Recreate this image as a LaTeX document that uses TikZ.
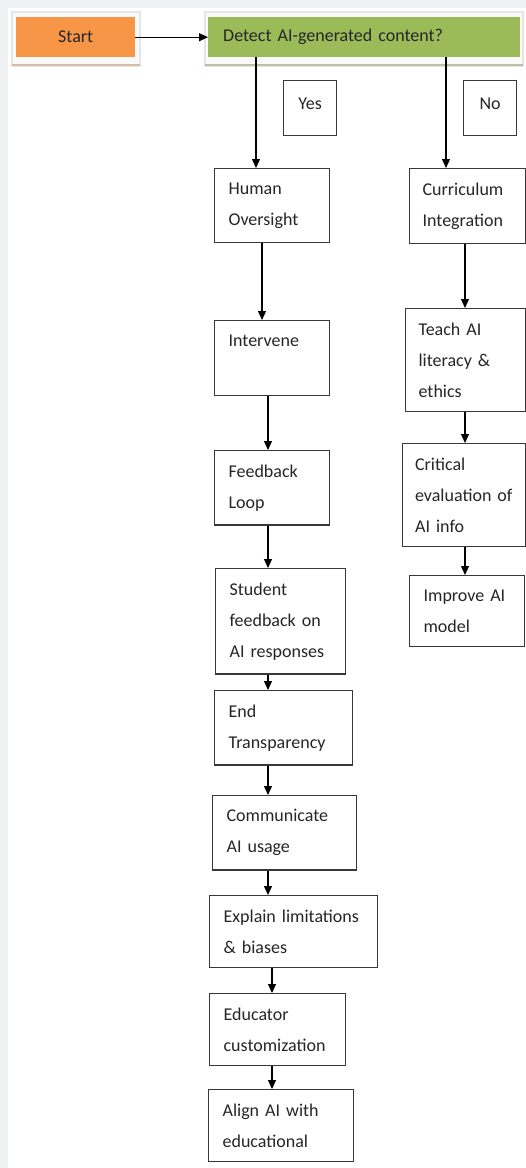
\documentclass[tikz,border=0pt]{standalone}
\usepackage{fontspec}
\setmainfont{Carlito}
\usetikzlibrary{arrows.meta, positioning}

\definecolor{startorange}{HTML}{F79646}
\definecolor{askgreen}{HTML}{9BBB59}
\definecolor{pagegray}{HTML}{F0F1F3}
\definecolor{inkgray}{HTML}{262626}
\definecolor{startshade}{HTML}{D8BCA6}
\definecolor{askshade}{HTML}{B9C2A6}

\begin{document}
\begin{tikzpicture}[x=1pt, y=-1pt,
        every node/.style={font=\fontsize{18}{31}\selectfont, text=inkgray},
        stepbox/.style={draw=black!78, line width=1.2pt, fill=white, anchor=north west,
            align=left, inner xsep=14, inner ysep=14},
        answer/.style={draw=black!78, line width=1.2pt, anchor=north west,
            minimum width=53, minimum height=55, text depth=9, inner ysep=16},
        backframe/.style={draw=black!10, line width=1.2pt, fill=black!2},
        flow/.style={line width=1.2pt, -{Triangle[length=9pt, width=8pt]}}
    ]
        \fill[pagegray] (0,0) rectangle (526,1168);
        \fill[white] (8,8) rectangle (526,1168);
        \useasboundingbox (0,0) rectangle (526,1168);

        % header boxes with their light frames
        \draw[backframe] (12,12) rectangle (140,66);
        \draw[startshade, line width=1.5pt] (12,65) -- (140,65);
        \draw[backframe] (205,12) rectangle (523,66);
        \draw[askshade, line width=1.5pt] (205,65) -- (523,65);
        \node[fill=startorange, anchor=north west, minimum width=119, minimum height=40] (start) at (16,17) {Start};
        \node[fill=askgreen, anchor=north west, text width=282, inner xsep=15, minimum height=40] (detect) at (208,17) {Detect AI-generated content?};

        \node[answer] (yes) at (283,80) {Yes};
        \node[answer] (no) at (463,80) {No};

        % left column
        \node[stepbox, text width=87] (human) at (214,168) {Human\\Oversight};
        \node[stepbox, text width=87, text depth=35] (intervene) at (214,320) {Intervene};
        \node[stepbox, text width=87] (feedback) at (214,450) {Feedback\\Loop};
        \node[stepbox, text width=102] (student) at (215,568) {Student\\feedback on\\AI responses};
        \node[stepbox, text width=110] (endtr) at (214,690) {End\\Transparency};
        \node[stepbox, text width=116] (communicate) at (212,795) {Communicate\\AI usage};
        \node[stepbox, text width=140] (explain) at (209,895) {Explain limitations\\\& biases};
        \node[stepbox, text width=108] (educator) at (209,993) {Educator\\customization};
        \node[stepbox, text width=117] (alignai) at (208,1089) {Align AI with\\educational};

        % right column
        \node[stepbox, text width=90, inner xsep=13] (curriculum) at (409,168) {Curriculum\\Integration};
        \node[stepbox, text width=94, inner xsep=13] (teach) at (405,308) {Teach AI\\literacy \&\\ethics};
        \node[stepbox, text width=98, inner xsep=12.5] (critical) at (402,443) {Critical\\evaluation of\\AI info};
        \node[stepbox, text width=87] (improve) at (409,575) {Improve AI\\model};

        \coordinate (yescol) at (256,0);
        \coordinate (nocol) at (446,0);
        \coordinate (colA) at (262,0);
        \coordinate (colB) at (268,0);
        \coordinate (colC) at (272,0);
        \coordinate (colD) at (465,0);

        \draw[flow] (start) -- (detect);
        \draw[flow] (detect.south -| yescol) -- (human.north -| yescol);
        \draw[flow] (detect.south -| nocol) -- (curriculum.north -| nocol);
        \draw[flow] (human.south -| colA) -- (intervene.north -| colA);
        \foreach \a/\b in {intervene/feedback, feedback/student, student/endtr, endtr/communicate, communicate/explain}
            \draw[flow] (\a.south -| colB) -- (\b.north -| colB);
        \foreach \a/\b in {explain/educator, educator/alignai}
            \draw[flow] (\a.south -| colC) -- (\b.north -| colC);
        \foreach \a/\b in {curriculum/teach, teach/critical, critical/improve}
            \draw[flow] (\a.south -| colD) -- (\b.north -| colD);
    \end{tikzpicture}
\end{document}
